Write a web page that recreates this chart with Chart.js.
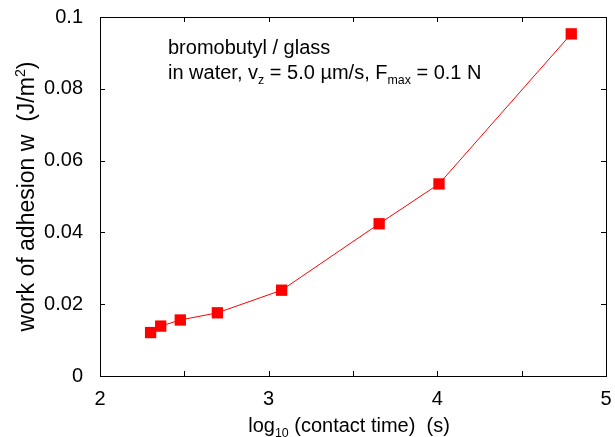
<!DOCTYPE html>
<html>
<head>
<meta charset="utf-8">
<script src="https://cdn.jsdelivr.net/npm/chart.js@4.4.1/dist/chart.umd.min.js"></script>
<style>
  html, body { margin: 0; padding: 0; background: #fff; }
  #wrap { width: 615px; height: 437px; }
</style>
</head>
<body>
<div id="wrap"><canvas id="chart" width="615" height="437"></canvas></div>
<script>
// data
const logTime = [2.30, 2.36, 2.476, 2.696, 3.077, 3.655, 4.01, 4.794];
const adhesion = [0.0121, 0.0139, 0.0156, 0.0176, 0.0239, 0.0424, 0.0535, 0.0953];
const xTicks = [2, 3, 4, 5];
const yTicks = [0, 0.02, 0.04, 0.06, 0.08, 0.1];

const FONT = '"Liberation Sans", Arial, sans-serif';

// draw a run of text pieces, some of them sub/superscripted
function drawRuns(ctx, runs, x, y, size, align) {
    const widths = runs.map(r => {
        ctx.font = (size * (r.s || 1)) + 'px ' + FONT;
        return ctx.measureText(r.t).width;
    });
    const total = widths.reduce((a, b) => a + b, 0);
    let cx = align === 'center' ? x - total / 2 : x;
    ctx.textAlign = 'left';
    ctx.textBaseline = 'alphabetic';
    runs.forEach((r, i) => {
        ctx.font = (size * (r.s || 1)) + 'px ' + FONT;
        ctx.fillText(r.t, cx, y + (r.dy || 0));
        cx += widths[i];
    });
}

function noPad(s) {
    s.paddingTop = 0; s.paddingBottom = 0;
    s.paddingLeft = 0; s.paddingRight = 0;
}

const framePlugin = {
    id: 'frame',
    afterDraw(chart) {
        const ctx = chart.ctx;
        const a = chart.chartArea;
        const xs = chart.scales.x, ys = chart.scales.y;
        ctx.save();
        ctx.strokeStyle = '#000';
        ctx.lineWidth = 1;
        ctx.strokeRect(a.left + 0.5, a.top + 0.5, a.right - a.left, a.bottom - a.top);
        const tl = 5;
        ctx.beginPath();
        xs.ticks.forEach(t => {
            const px = Math.round(xs.getPixelForValue(t.value)) + 0.5;
            ctx.moveTo(px, a.bottom); ctx.lineTo(px, a.bottom - tl);
            ctx.moveTo(px, a.top); ctx.lineTo(px, a.top + tl);
        });
        ys.ticks.forEach(t => {
            const py = Math.round(ys.getPixelForValue(t.value)) + 0.5;
            ctx.moveTo(a.left, py); ctx.lineTo(a.left + tl, py);
            ctx.moveTo(a.right, py); ctx.lineTo(a.right - tl, py);
        });
        ctx.stroke();

        ctx.fillStyle = '#000';
        // annotation
        drawRuns(ctx, [{ t: 'bromobutyl / glass' }], 168, 54, 20);
        drawRuns(ctx, [
            { t: 'in water, v' }, { t: 'z', s: 0.62, dy: 5 },
            { t: ' = 5.0 \u00b5m/s, F' }, { t: 'max', s: 0.62, dy: 5 },
            { t: ' = 0.1 N' }
        ], 168, 79, 20);

        // x title
        drawRuns(ctx, [
            { t: 'log' }, { t: '10', s: 0.62, dy: 5 },
            { t: ' (contact time)  (s)' }
        ], (a.left + a.right) / 2 - 4, 432, 20, 'center');

        // y title
        ctx.translate(34, (a.top + a.bottom) / 2);
        ctx.rotate(-Math.PI / 2);
        drawRuns(ctx, [
            { t: 'work of adhesion w  (J/m' }, { t: '2', s: 0.62, dy: -9 },
            { t: ')' }
        ], 0, 0, 23, 'center');
        ctx.restore();
    }
};

new Chart(document.getElementById('chart'), {
    type: 'line',
    data: {
        datasets: [{
            data: logTime.map((v, i) => ({ x: v, y: adhesion[i] })),
            borderColor: '#ff0000',
            backgroundColor: '#ff0000',
            borderWidth: 1,
            pointStyle: 'rect',
            pointRadius: 8,
            pointBorderWidth: 0,
            tension: 0
        }]
    },
    options: {
        responsive: false,
        animation: false,
        events: [],
        layout: { padding: { left: 0, right: 9, top: 17, bottom: 0 } },
        plugins: { legend: { display: false }, tooltip: { enabled: false } },
        scales: {
            x: {
                type: 'linear',
                min: 2, max: 5,
                afterFit: s => { s.height = 61; noPad(s); },
                afterBuildTicks: s => {
                    s.ticks = [];
                    for (let i = 0; i < xTicks.length; i++) {
                        s.ticks.push({ value: xTicks[i] });
                        if (i < xTicks.length - 1) s.ticks.push({ value: xTicks[i] + 0.5 });
                    }
                },
                grid: { display: false, drawTicks: false },
                border: { display: false },
                ticks: {
                    padding: 11,
                    color: '#000',
                    font: { family: FONT, size: 20 },
                    maxRotation: 0,
                    autoSkip: false,
                    callback: v => xTicks.includes(v) ? String(v) : ''
                }
            },
            y: {
                min: 0, max: 0.1,
                afterFit: s => { s.width = 100; noPad(s); },
                afterBuildTicks: s => { s.ticks = yTicks.map(v => ({ value: v })); },
                grid: { display: false, drawTicks: false },
                border: { display: false },
                ticks: {
                    padding: 17,
                    color: '#000',
                    font: { family: FONT, size: 20 },
                    autoSkip: false,
                    callback: v => String(v)
                }
            }
        }
    },
    plugins: [framePlugin]
});
</script>
</body>
</html>
